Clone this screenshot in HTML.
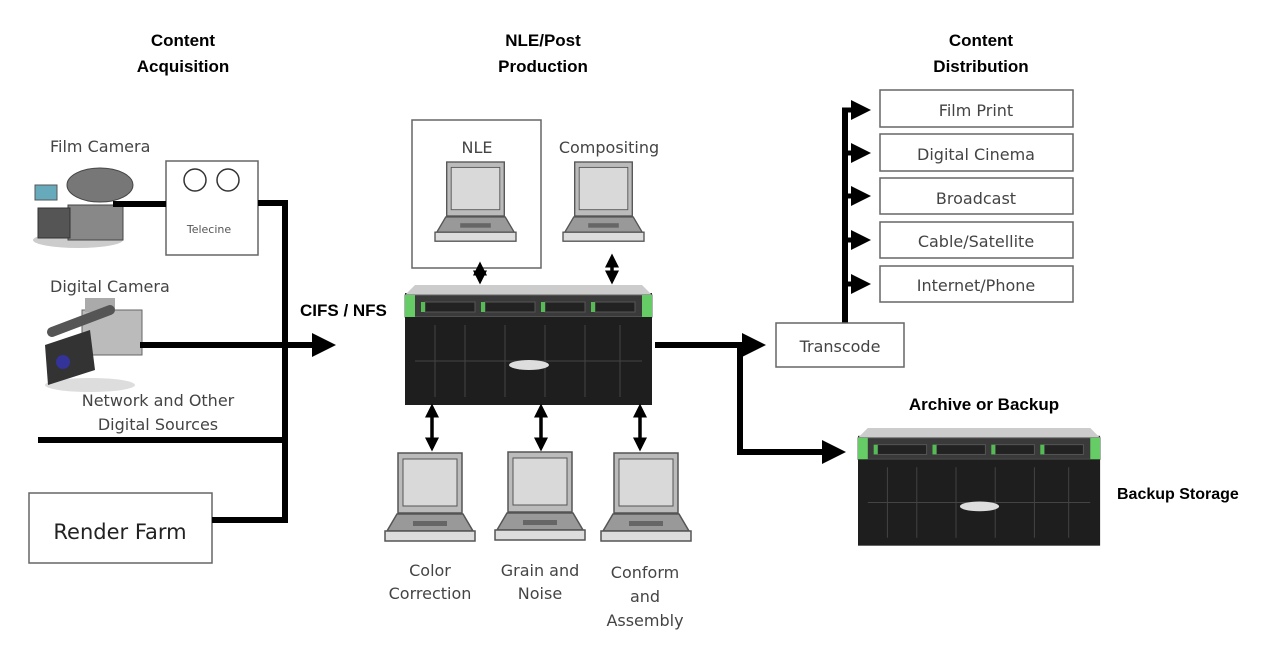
<!DOCTYPE html>
<html><head><meta charset="utf-8"><style>
body{margin:0;background:#fff;width:1280px;height:655px;overflow:hidden}
svg{display:block}
.t{font-family:"Liberation Sans",Arial,sans-serif;font-weight:bold;font-size:17px;fill:#000}
.g{font-family:"DejaVu Sans","Liberation Sans",sans-serif;font-size:16px;fill:#444}
</style></head><body>
<svg width="1280" height="655" viewBox="0 0 1280 655" xmlns="http://www.w3.org/2000/svg">
<defs>
<marker id="ah" markerWidth="4" markerHeight="4" refX="3" refY="2" orient="auto" markerUnits="strokeWidth"><path d="M0,0 L4,2 L0,4 z" fill="#000"/></marker>
<marker id="ahs" markerWidth="4" markerHeight="4" refX="1" refY="2" orient="auto-start-reverse" markerUnits="strokeWidth"><path d="M0,0 L4,2 L0,4 z" fill="#000"/></marker>
<g id="lap">
<rect x="13" y="0" width="64" height="60" fill="#bbb" stroke="#555" stroke-width="1.5"/>
<rect x="18" y="6" width="54" height="47" fill="#d9d9d9" stroke="#555"/>
<polygon points="12,61 78,61 88,78 2,78" fill="#999" stroke="#555" stroke-width="1.5"/>
<rect x="28" y="68" width="34" height="5" fill="#666"/>
<rect x="0" y="78" width="90" height="10" fill="#ddd" stroke="#555" stroke-width="1.5"/>
</g>
<g id="srv">
<rect x="0" y="8" width="247" height="112" fill="#2a2a2a"/>
<polygon points="10,0 237,0 247,10 0,10" fill="#ccc"/>
<rect x="0" y="10" width="247" height="22" fill="#3a3a3a" stroke="#666"/>
<rect x="0" y="10" width="10" height="22" fill="#6c6"/><rect x="237" y="10" width="10" height="22" fill="#6c6"/>
<rect x="20" y="17" width="50" height="10" fill="#222" stroke="#555"/><rect x="80" y="17" width="50" height="10" fill="#222" stroke="#555"/>
<rect x="140" y="17" width="40" height="10" fill="#222" stroke="#555"/><rect x="190" y="17" width="40" height="10" fill="#222" stroke="#555"/>
<rect x="16" y="17" width="4" height="10" fill="#5b5"/><rect x="76" y="17" width="4" height="10" fill="#5b5"/><rect x="136" y="17" width="4" height="10" fill="#5b5"/><rect x="186" y="17" width="4" height="10" fill="#5b5"/>
<rect x="0" y="32" width="247" height="88" fill="#1e1e1e"/>
<g stroke="#444" stroke-width="1"><path d="M30,40V112M60,40V112M100,40V112M140,40V112M180,40V112M215,40V112M10,76H237"/></g>
<ellipse cx="124" cy="80" rx="20" ry="5" fill="#ddd"/>
</g>
</defs>

<text class="t" x="183" y="46" text-anchor="middle">Content</text>
<text class="t" x="183" y="72" text-anchor="middle">Acquisition</text>
<text class="t" x="543" y="46" text-anchor="middle">NLE/Post</text>
<text class="t" x="543" y="72" text-anchor="middle">Production</text>
<text class="t" x="981" y="46" text-anchor="middle">Content</text>
<text class="t" x="981" y="72" text-anchor="middle">Distribution</text>

<!-- Left -->
<text class="g" x="50" y="152">Film Camera</text>
<!-- film camera icon -->
<ellipse cx="78" cy="240" rx="45" ry="8" fill="#ccc"/>
<rect x="35" y="185" width="22" height="15" fill="#6ab" stroke="#555"/>
<ellipse cx="100" cy="185" rx="33" ry="17" fill="#777" stroke="#444"/>
<rect x="68" y="205" width="55" height="35" fill="#888" stroke="#444"/>
<rect x="38" y="208" width="32" height="30" fill="#555" stroke="#333"/>
<text class="g" x="50" y="292">Digital Camera</text>
<!-- digital camera icon -->
<ellipse cx="90" cy="385" rx="45" ry="7" fill="#ddd"/>
<rect x="82" y="310" width="60" height="45" fill="#bbb" stroke="#666"/>
<rect x="85" y="298" width="30" height="14" fill="#aaa"/>
<line x1="52" y1="332" x2="110" y2="310" stroke="#555" stroke-width="10" stroke-linecap="round"/>
<polygon points="45,345 90,330 95,370 48,385" fill="#333"/>
<circle cx="63" cy="362" r="7" fill="#339"/>
<text class="g" x="158" y="406" text-anchor="middle">Network and Other</text>
<text class="g" x="158" y="430" text-anchor="middle">Digital Sources</text>

<rect x="166" y="161" width="92" height="94" fill="#fff" stroke="#666" stroke-width="1.5"/>
<circle cx="195" cy="180" r="11" fill="none" stroke="#333" stroke-width="1.5"/>
<circle cx="228" cy="180" r="11" fill="none" stroke="#333" stroke-width="1.5"/>
<text x="209" y="233" text-anchor="middle" style="font-family:'DejaVu Sans',sans-serif;font-size:11px;fill:#555">Telecine</text>
<rect x="29" y="493" width="183" height="70" fill="#fff" stroke="#666" stroke-width="1.5"/>
<text x="120" y="539" text-anchor="middle" style="font-family:'DejaVu Sans',sans-serif;font-size:21px;fill:#222">Render Farm</text>

<g stroke="#000" stroke-width="6" fill="none">
<path d="M113,204H166"/>
<path d="M258,203H285V520H212"/>
<path d="M38,440H285"/>
</g>
<line x1="140" y1="345" x2="330" y2="345" stroke="#000" stroke-width="6" marker-end="url(#ah)"/>
<text class="t" x="300" y="316">CIFS / NFS</text>

<!-- center -->
<rect x="412" y="120" width="129" height="148" fill="#fff" stroke="#666" stroke-width="1.5"/>
<text class="g" x="477" y="153" text-anchor="middle">NLE</text>
<text class="g" x="609" y="153" text-anchor="middle">Compositing</text>
<use href="#lap" transform="translate(435,162) scale(0.9)"/>
<use href="#lap" transform="translate(563,162) scale(0.9)"/>
<use href="#srv" transform="translate(405,285)"/>
<g stroke="#000" stroke-width="3.5" marker-end="url(#ah)" marker-start="url(#ahs)">
<line x1="480" y1="272" x2="480" y2="281"/>
<line x1="612" y1="264" x2="612" y2="281"/>
<line x1="432" y1="414" x2="432" y2="448"/>
<line x1="541" y1="414" x2="541" y2="448"/>
<line x1="640" y1="414" x2="640" y2="448"/>
</g>
<use href="#lap" transform="translate(385,453)"/>
<use href="#lap" transform="translate(495,452)"/>
<use href="#lap" transform="translate(601,453)"/>
<text class="g" x="430" y="576" text-anchor="middle">Color</text>
<text class="g" x="430" y="599" text-anchor="middle">Correction</text>
<text class="g" x="540" y="576" text-anchor="middle">Grain and</text>
<text class="g" x="540" y="599" text-anchor="middle">Noise</text>
<text class="g" x="645" y="578" text-anchor="middle">Conform</text>
<text class="g" x="645" y="602" text-anchor="middle">and</text>
<text class="g" x="645" y="626" text-anchor="middle">Assembly</text>

<!-- right -->
<g stroke="#000" stroke-width="6" fill="none">
<path d="M655,345H740V452H830"/>
<path d="M845,323V110"/>
</g>
<line x1="730" y1="345" x2="760" y2="345" stroke="#000" stroke-width="6" marker-end="url(#ah)"/>
<line x1="740" y1="452" x2="840" y2="452" stroke="#000" stroke-width="6" marker-end="url(#ah)"/>
<g stroke="#000" stroke-width="5" marker-end="url(#ah)">
<line x1="842" y1="110" x2="866" y2="110"/>
<line x1="842" y1="153" x2="866" y2="153"/>
<line x1="842" y1="196" x2="866" y2="196"/>
<line x1="842" y1="240" x2="866" y2="240"/>
<line x1="842" y1="284" x2="866" y2="284"/>
</g>
<rect x="776" y="323" width="128" height="44" fill="#fff" stroke="#666" stroke-width="1.5"/>
<text class="g" x="840" y="352" text-anchor="middle">Transcode</text>
<g fill="#fff" stroke="#666" stroke-width="1.5">
<rect x="880" y="90" width="193" height="37"/>
<rect x="880" y="134" width="193" height="37"/>
<rect x="880" y="178" width="193" height="36"/>
<rect x="880" y="222" width="193" height="36"/>
<rect x="880" y="266" width="193" height="36"/>
</g>
<text class="g" x="976" y="116" text-anchor="middle">Film Print</text>
<text class="g" x="976" y="160" text-anchor="middle">Digital Cinema</text>
<text class="g" x="976" y="204" text-anchor="middle">Broadcast</text>
<text class="g" x="976" y="247" text-anchor="middle">Cable/Satellite</text>
<text class="g" x="976" y="291" text-anchor="middle">Internet/Phone</text>
<text class="t" x="984" y="410" text-anchor="middle">Archive or Backup</text>
<use href="#srv" transform="translate(858,428) scale(0.98,0.98)"/>
<text class="t" x="1117" y="499" style="font-size:16px">Backup Storage</text>
</svg>
</body></html>
